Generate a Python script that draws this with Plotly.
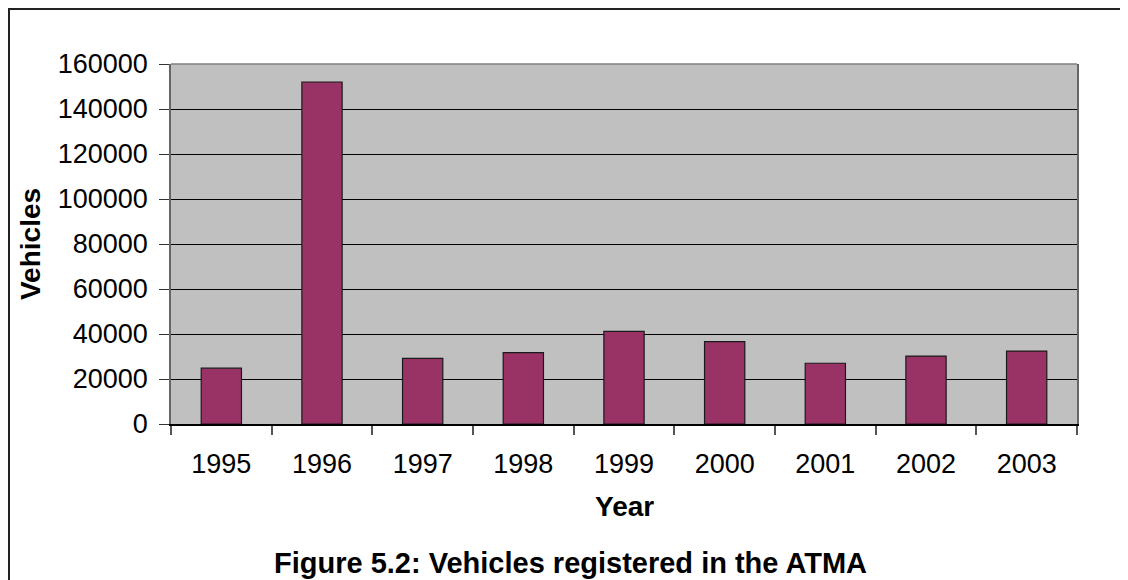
"""Vehicles registered in the ATMA, 1995-2003."""

import plotly.graph_objects as go

years = ["1995", "1996", "1997", "1998", "1999", "2000", "2001", "2002", "2003"]
vehicles = [24800, 152000, 29200, 31700, 41200, 36600, 27000, 30200, 32400]

FONT = "Liberation Sans, Arial, sans-serif"

fig = go.Figure()
fig.add_trace(go.Bar(
    x=years,
    y=vehicles,
    marker=dict(color="#993366", line=dict(color="#1a1a1a", width=1.2)),
    showlegend=False,
))

# page has an 8px body margin, so the margins are shifted to land the plot at x 171-1077, y 64-424
fig.update_layout(
    width=1128, height=580,
    margin=dict(l=163, r=59, t=56, b=164),
    paper_bgcolor="white",
    plot_bgcolor="#c0c0c0",
    bargap=0.6,
    font=dict(family=FONT, size=27, color="black"),
)

fig.update_xaxes(
    type="category",
    showline=True, linecolor="black", linewidth=1.5,
    ticks="outside", ticklen=9, tickcolor="#555555", tickwidth=1.5,
    tickson="boundaries",
    ticklabelstandoff=15,
    showgrid=False,
)

fig.update_yaxes(
    range=[0, 160000], dtick=20000, tickformat="d",
    showline=True, linecolor="#666666", linewidth=1.5, mirror=True,
    ticks="outside", ticklen=10, tickcolor="#333333", tickwidth=1.2,
    ticklabelstandoff=6,
    showgrid=True, gridcolor="black", gridwidth=1,
    zeroline=False,
)

# gray top edge of the plot area
fig.add_shape(type="line", xref="paper", yref="paper", x0=0, x1=1, y0=1, y1=1,
              line=dict(color="#808080", width=1.5), layer="above")

# outer chart border (runs off the right and bottom of the picture)
fig.add_shape(type="rect", xref="paper", yref="paper",
              x0=-0.1788, x1=1.07, y0=-0.47, y1=1.1528,
              line=dict(color="#222222", width=2), fillcolor="rgba(0,0,0,0)")

fig.add_annotation(text="<b>Year</b>", xref="paper", yref="paper",
                   x=0.5, y=-0.228, xanchor="center", yanchor="middle",
                   showarrow=False, font=dict(size=28))
fig.add_annotation(text="<b>Vehicles</b>", xref="paper", yref="paper",
                   x=-0.1556, y=0.5, xanchor="center", yanchor="middle",
                   textangle=-90, showarrow=False, font=dict(size=28))
fig.add_annotation(text="<b>Figure 5.2: Vehicles registered in the ATMA</b>",
                   xref="paper", yref="paper",
                   x=0.4404, y=-0.386, xanchor="center", yanchor="middle",
                   showarrow=False, font=dict(size=29))

fig.write_html("out.html")
